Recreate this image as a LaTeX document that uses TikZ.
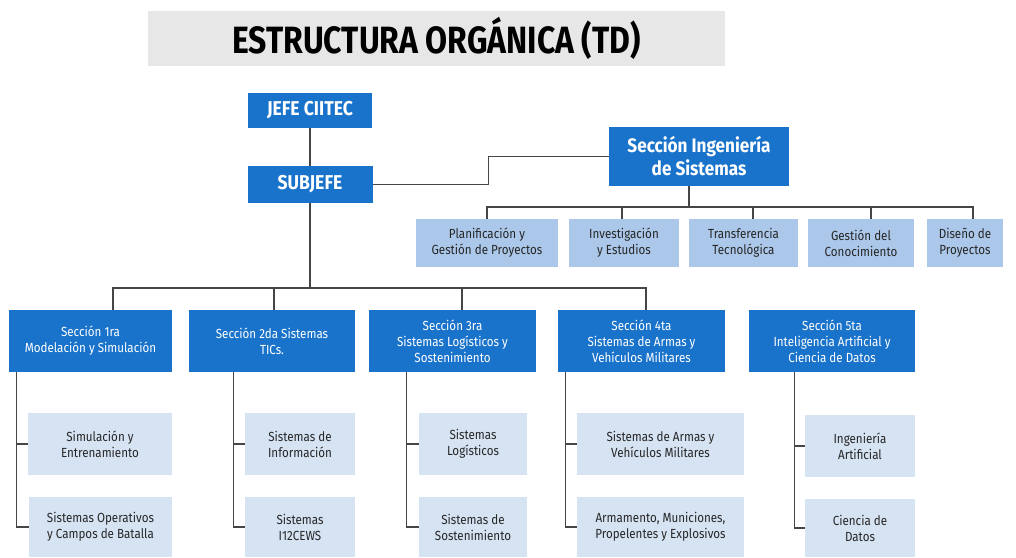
\documentclass[tikz,border=0pt]{standalone}
\usepackage{fontspec}
\setmainfont[FakeStretch=0.88]{Fira Sans}
\newfontfamily\titlefont[FakeStretch=0.84]{Fira Sans}
\usetikzlibrary{positioning,calc}

\definecolor{azul}{RGB}{26,115,203}
\definecolor{celeste}{RGB}{171,199,233}
\definecolor{palido}{RGB}{214,227,243}
\definecolor{gristit}{RGB}{231,231,231}
\definecolor{linea}{RGB}{70,70,70}

\tikzset{
  jefatura/.style={fill=azul, text=white, inner sep=0pt, align=center,
    font=\bfseries\fontsize{20}{23}\selectfont},
  seccion/.style={fill=azul, text=white, inner sep=0pt, align=center,
    minimum height=62pt, font=\fontsize{13.2}{16}\selectfont},
  area/.style={fill=celeste, text=black!85, inner sep=0pt, align=center,
    minimum height=48pt, font=\fontsize{13.2}{16}\selectfont},
  unidad/.style={fill=palido, text=black!85, inner sep=0pt, align=center,
    minimum height=62pt, font=\fontsize{13.2}{16}\selectfont},
  conn/.style={draw=linea, line width=1.3pt}
}

\begin{document}
\begin{tikzpicture}[x=1pt, y=-1pt]
  \useasboundingbox (0,0) rectangle (1016,557);

  % Title
  \node[fill=gristit, minimum width=577pt, minimum height=55pt, inner sep=0pt,
    font=\titlefont\bfseries\fontsize{38}{40}\selectfont] (titulo) at (436.5,38.5)
    {ESTRUCTURA ORGÁNICA (TD)};

  % Jefatura
  \node[jefatura, minimum width=124pt, minimum height=35pt] (jefe) at (310,110.5) {JEFE CIITEC};
  \node[jefatura, minimum width=125pt, minimum height=37pt] (sub) at (310,184.5) {SUBJEFE};
  \node[jefatura, minimum width=180pt, minimum height=59pt,
    font=\bfseries\fontsize{19.5}{23}\selectfont] (ing) at (699,156.5)
    {Sección Ingeniería\\de Sistemas};

  % Areas of Seccion Ingenieria
  \node[area, minimum width=142pt] (p1) at (487,243) {Planificación y\\Gestión de Proyectos};
  \node[area, minimum width=110pt] (p2) at (624,243) {Investigación\\y Estudios};
  \node[area, minimum width=109pt] (p3) at (743.5,243) {Transferencia\\Tecnológica};
  \node[area, minimum width=106pt] (p4) at (861,243) {Gestión del\\Conocimiento};
  \node[area, minimum width=76pt] (p5) at (965,243) {Diseño de\\Proyectos};

  % Secciones
  \node[seccion, minimum width=163pt] (s1) at (90.5,341) {Sección 1ra\\Modelación y Simulación};
  \node[seccion, minimum width=166pt] (s2) at (272,341) {Sección 2da Sistemas\\TICs.};
  \node[seccion, minimum width=167pt] (s3) at (452.5,341) {Sección 3ra\\Sistemas Logísticos y\\Sostenimiento};
  \node[seccion, minimum width=167pt] (s4) at (641.5,341) {Sección 4ta\\Sistemas de Armas y\\Vehículos Militares};
  \node[seccion, minimum width=166pt] (s5) at (832,341) {Sección 5ta\\Inteligencia Artificial y\\Ciencia de Datos};

  % Unidades
  \node[unidad, minimum width=144pt] (a1) at (100,444) {Simulación y\\Entrenamiento};
  \node[unidad, minimum width=143pt, minimum height=60pt] (b1) at (100.5,527) {Sistemas Operativos\\y Campos de Batalla};
  \node[unidad, minimum width=110pt] (a2) at (300,444) {Sistemas de\\Información};
  \node[unidad, minimum width=110pt, minimum height=60pt] (b2) at (300,527) {Sistemas\\I12CEWS};
  \node[unidad, minimum width=108pt] (a3) at (473,444) {Sistemas\\Logísticos};
  \node[unidad, minimum width=108pt, minimum height=60pt] (b3) at (473,527) {Sistemas de\\Sostenimiento};
  \node[unidad, minimum width=167pt] (a4) at (660.5,444) {Sistemas de Armas y\\Vehículos Militares};
  \node[unidad, minimum width=167pt, minimum height=60pt] (b4) at (660.5,527) {Armamento, Municiones,\\Propelentes y Explosivos};
  \node[unidad, minimum width=110pt] (a5) at (860,446) {Ingeniería\\Artificial};
  \node[unidad, minimum width=110pt, minimum height=58pt] (b5) at (860,528) {Ciencia de\\Datos};

  % Connectors
  \draw[conn] (jefe) -- (sub);
  \draw[conn] (sub.east) -- ++(116,0) |- (ing.west);

  \coordinate (busP) at ([xshift=-10pt]ing.south |- 0,207);
  \draw[conn] ([xshift=-10pt]ing.south) -- (busP);
  \draw[conn] (busP) -| (p1.north);
  \draw[conn] (busP) -| ([xshift=-2pt]p2.north);
  \draw[conn] (busP) -| ([xshift=9.5pt]p3.north);
  \draw[conn] (busP) -| ([xshift=10pt]p4.north);
  \draw[conn] (busP) -| ([xshift=8pt]p5.north);

  \coordinate (busS) at (sub.south |- 0,288);
  \draw[conn] (sub.south) -- (busS);
  \draw[conn] (busS) -| ([xshift=22.5pt]s1.north);
  \draw[conn] (busS) -| ([xshift=2pt]s2.north);
  \draw[conn] (busS) -| ([xshift=9.5pt]s3.north);
  \draw[conn] (busS) -| ([xshift=4.5pt]s4.north);

  \foreach \s/\d in {1/8, 2/45, 3/38, 4/8, 5/46} {
    \draw[conn] ([xshift=\d pt]s\s.south west) |- (a\s.west);
    \draw[conn] ([xshift=\d pt]s\s.south west) |- (b\s.west);
  }
\end{tikzpicture}
\end{document}
